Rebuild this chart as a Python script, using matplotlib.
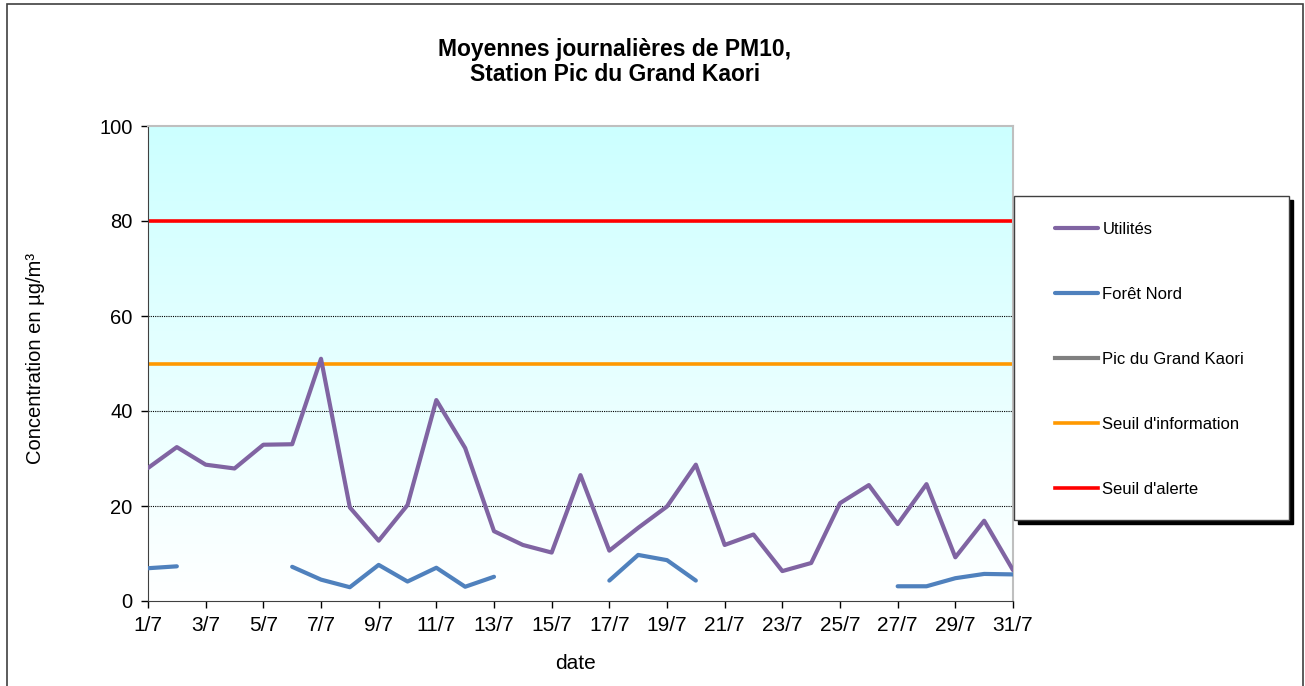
import numpy as np
import matplotlib.pyplot as plt
from matplotlib.patches import Rectangle

plt.rcParams['font.family'] = ['Liberation Sans', 'DejaVu Sans']

# jours de juillet
days = list(range(1, 32))
nan = np.nan

# moyennes journalieres PM10 (ug/m3)
utilites = [28.0, 32.4, 28.7, 27.9, 32.9, 33.0, 51.0, 19.7, 12.7, 20.2,
            42.3, 32.2, 14.7, 11.8, 10.2, 26.5, 10.6, 15.4, 19.9, 28.7,
            11.8, 14.0, 6.3, 8.0, 20.6, 24.4, 16.2, 24.6, 9.2, 16.9, 6.5]
foret_nord = [6.9, 7.3, nan, nan, nan, 7.2, 4.5, 2.9, 7.6, 4.1,
              7.0, 3.0, 5.1, nan, nan, nan, 4.3, 9.7, 8.6, 4.3,
              nan, nan, nan, nan, nan, nan, 3.1, 3.1, 4.8, 5.7, 5.6]
pic_grand_kaori = [nan] * 31   # pas de donnees ce mois-ci

seuil_info = 50
seuil_alerte = 80

xtick_days = list(range(1, 32, 2))
xtick_labels = [f"{d}/7" for d in xtick_days]

W, H = 1305, 686
fig = plt.figure(figsize=(W / 100, H / 100), dpi=100)
ax = fig.add_axes([148 / W, 1 - 601 / H, (1013 - 148) / W, (601 - 126) / H])

# fond en degrade cyan -> blanc
grad = np.linspace(1, 0, 256).reshape(-1, 1)
top = np.array([0.80, 1.0, 1.0])
bot = np.array([1.0, 1.0, 1.0])
img = bot + (top - bot) * grad[..., None]
ax.imshow(img, extent=(0, 1, 0, 1), transform=ax.transAxes,
          aspect='auto', zorder=0)

for g in [20, 40, 60, 80]:
    ax.axhline(g, color='black', lw=0.8, ls=(0, (1, 1)), zorder=1)

ax.plot(days, utilites, color='#8064A2', lw=3, label='Utilités', zorder=3,
        solid_capstyle='round')
ax.plot(days, foret_nord, color='#4F81BD', lw=3, label='Forêt Nord', zorder=3,
        solid_capstyle='round')
ax.plot(days, pic_grand_kaori, color='#808080', lw=3, label='Pic du Grand Kaori',
        zorder=3)
ax.axhline(seuil_info, color='#FF9900', lw=2.6, label="Seuil d'information", zorder=2)
ax.axhline(seuil_alerte, color='#FF0000', lw=2.6, label="Seuil d'alerte", zorder=2)

ax.set_xlim(1, 31)
ax.set_ylim(0, 100)
ax.set_xticks(xtick_days)
ax.set_xticklabels(xtick_labels)
ax.set_yticks([0, 20, 40, 60, 80, 100])
ax.tick_params(axis='both', direction='out', length=5, width=1, colors='black')
ax.tick_params(axis='x', pad=6, labelsize=15)
ax.tick_params(axis='y', pad=6, labelsize=14.5)

for s in ['top', 'right']:
    ax.spines[s].set_color('#BFBFBF')
    ax.spines[s].set_linewidth(1.5)
ax.spines['left'].set_color('#404040')
ax.spines['bottom'].set_color('#404040')

ax.set_xlabel('date', fontsize=15)
ax.xaxis.set_label_coords((575 - 148) / 865, (601 - 654) / 475)
ax.set_ylabel('Concentration en µg/m³', fontsize=14.5)
ax.yaxis.set_label_coords((45 - 148) / 865, 0.51)

fig.text(615 / W, 1 - 62 / H, 'Moyennes journalières de PM10,\nStation Pic du Grand Kaori',
         ha='center', va='center', fontsize=16.5, fontweight='bold', linespacing=1.12)

# cadre de la legende avec ombre
lx0, ly0, lx1, ly1 = 1014, 196, 1289, 520
fig.patches.append(Rectangle(((lx0 + 4) / W, 1 - (ly1 + 4) / H),
                             (lx1 - lx0) / W, (ly1 - ly0) / H, transform=fig.transFigure,
                             facecolor='black', edgecolor='black', zorder=5))
fig.patches.append(Rectangle((lx0 / W, 1 - ly1 / H), (lx1 - lx0) / W, (ly1 - ly0) / H,
                             transform=fig.transFigure, facecolor='white',
                             edgecolor='#404040', lw=1, zorder=6))

leg = fig.legend(loc='upper left', bbox_to_anchor=(1055 / W, 1 - 222 / H),
                 frameon=False, fontsize=12, borderpad=0, borderaxespad=0,
                 handlelength=2.6, handletextpad=0.25, labelspacing=3.0)
leg.set_zorder(7)

# cadre exterieur
fig.patches.append(Rectangle((7 / W, -0.01), (1303 - 7) / W, 1.01 - 4 / H,
                             transform=fig.transFigure, fill=False,
                             edgecolor='#404040', lw=1.2, zorder=0))

fig.savefig('out.png', dpi=100)
